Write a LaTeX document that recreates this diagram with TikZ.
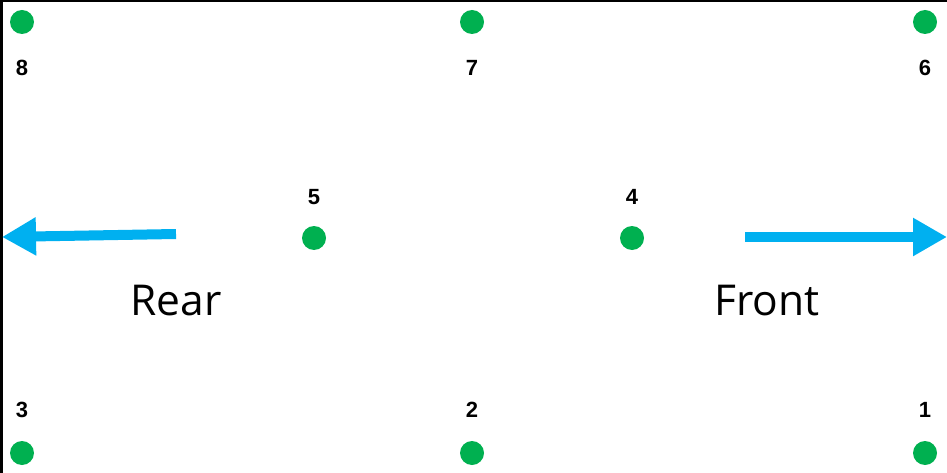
\documentclass[tikz,border=0pt]{standalone}
\usepackage{fontspec}
\setmainfont{Liberation Sans}
\newfontfamily\bigfont{Open Sans}
\usetikzlibrary{arrows.meta}
\definecolor{dotgreen}{HTML}{00B050}
\definecolor{arrowblue}{HTML}{00B0F0}
\begin{document}
\begin{tikzpicture}[x=1pt,y=-1pt,
  pt/.style={circle,fill=dotgreen,minimum size=24pt,inner sep=0pt},
  num/.style={font=\fontsize{22}{22}\selectfont\bfseries,inner sep=0pt},
  big/.style={font=\bigfont\fontsize{42.5}{43}\selectfont,inner sep=0pt},
  dirarrow/.style={draw=arrowblue,line width=10pt,-{Triangle[length=34pt,width=36pt]}}]
\useasboundingbox (0,0) rectangle (947,473);
\draw[line width=2.5pt] (1.25,473) -- (1.25,1.25) -- (947,1.25);
\node[pt] (p8) at (22,22) {};
\node[pt] (p7) at (472,22) {};
\node[pt] (p6) at (925,22) {};
\node[pt] (p5) at (314,238) {};
\node[pt] (p4) at (632,238) {};
\node[pt] (p3) at (22,453) {};
\node[pt] (p2) at (472,453) {};
\node[pt] (p1) at (925,453) {};
\node[num] (l8) at (22,68) {8};
\node[num] (l7) at (472,68) {7};
\node[num] (l6) at (925,68) {6};
\node[num] (l5) at (314,197) {5};
\node[num] (l4) at (632,197) {4};
\node[num] (l3) at (22,410) {3};
\node[num] (l2) at (472,410) {2};
\node[num] (l1) at (925,410) {1};
\node[big] (rear) at (176,301) {Rear};
\node[big] (front) at (767,301) {Front};
\coordinate (ra) at (176,234);
\coordinate (rb) at (2,237);
\coordinate (fa) at (745,237);
\coordinate (fb) at (947,237);
\draw[dirarrow] (ra) -- (rb);
\draw[dirarrow] (fa) -- (fb);
\end{tikzpicture}
\end{document}
